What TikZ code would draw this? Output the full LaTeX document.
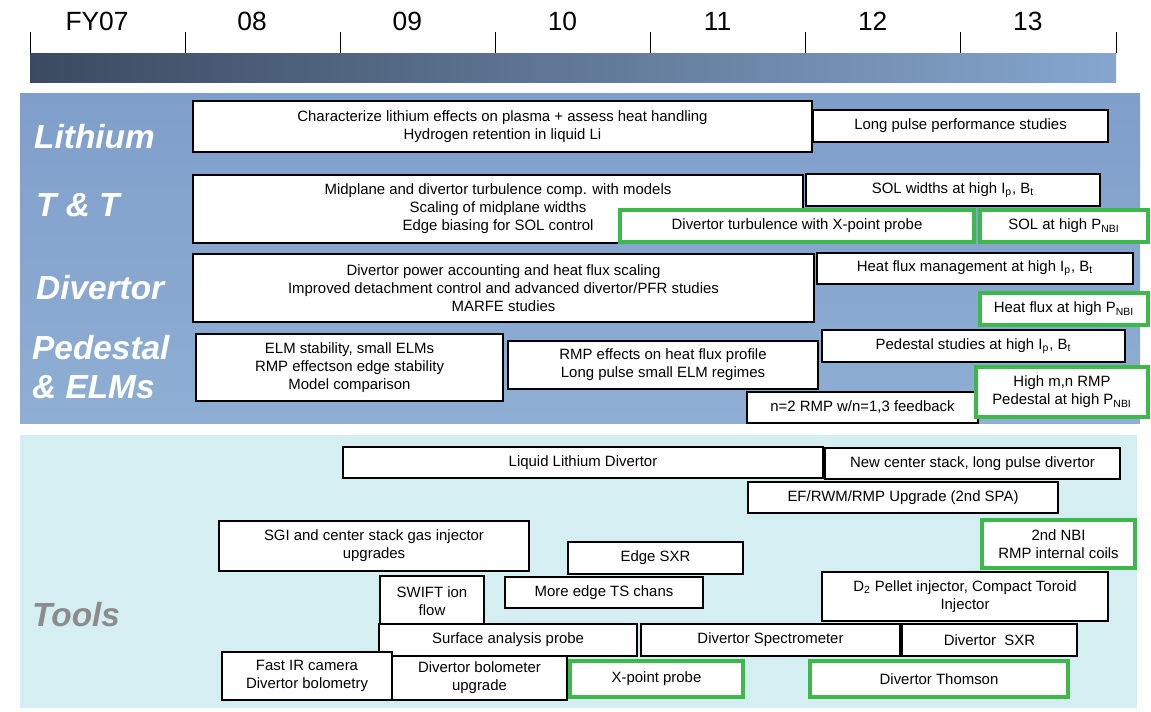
\documentclass[tikz,border=0pt]{standalone}
\usepackage{fontspec}
\setmainfont{Liberation Sans}

\definecolor{barleft}{HTML}{3B4A60}
\definecolor{barright}{HTML}{86A6CE}
\definecolor{physblue}{HTML}{7F9FCB}
\definecolor{physbluelow}{HTML}{8FAED3}
\definecolor{toolcyan}{HTML}{D5EEF2}
\definecolor{newgreen}{HTML}{3DB84A}
\definecolor{toolgray}{HTML}{8C8C8C}

\begin{document}
\begin{tikzpicture}[x=0.02cm,y=-0.02cm,
  year node/.style={font=\fontsize{15}{15}\selectfont},
  area node/.style={anchor=west,text=white,font=\fontsize{19}{19}\selectfont\bfseries\itshape},
  box span/.style n args={4}{at={({(#1+#3)/2},{(#2+#4)/2})},
    minimum width={(#3-#1)*0.02cm},minimum height={(#4-#2)*0.02cm}},
  task node/.style={rectangle,fill=white,draw=black,line width=0.6pt,inner sep=0pt,align=center,
    font=\fontsize{8.5}{10.2}\selectfont},
  new node/.style={task node,draw=newgreen,line width=2.8pt}]

  \useasboundingbox (0,0) rectangle (1151,711);

  % fiscal year scale
  \shade[left color=barleft,right color=barright] (30,53) rectangle (1116,82);
  \foreach \i in {0,...,7}
    \draw[line width=0.5pt] ({30+155.14*\i},32) -- ({30+155.14*\i},53);
  \foreach \yr [count=\i from 0] in {FY07,08,09,10,11,12,13}
    \node[year node] (y\i) at ({97+155.14*\i},21) {\yr};

  % background panels
  \shade[top color=physblue,bottom color=physbluelow] (20,93) rectangle (1140,423);
  \fill[toolcyan] (20,435) rectangle (1137,708);

  \node[area node] (lith) at (28,137) {Lithium};
  \node[area node] (tt) at (30,205) {T \& T};
  \node[area node] (div) at (30,288) {Divertor};
  \node[area node] (ped) at (26,348) {Pedestal};
  \node[area node] (elm) at (26,387) {\& ELMs};
  \node[area node,text=toolgray] (tools) at (26,615) {Tools};

  % Lithium
  \node[task node,box span={193}{101}{812}{152}] (li1)
    {Characterize lithium effects on plasma + assess heat handling\\Hydrogen retention in liquid Li};
  \node[task node,box span={813}{110}{1108}{142}] (li2) {Long pulse performance studies};

  % T & T
  \node[task node,box span={193}{175}{803}{243}] (tt1)
    {Midplane and divertor turbulence comp. with models\\Scaling of midplane widths\\Edge biasing for SOL control};
  \node[task node,box span={806}{174}{1100}{206}] (tt2) {SOL widths at high I\textsubscript{p}, B\textsubscript{t}};
  \node[new node,box span={620}{210}{974}{242}] (tt3) {Divertor turbulence with X-point probe};
  \node[new node,box span={980}{210}{1148}{242}] (tt4) {SOL at high P\textsubscript{NBI}};

  % Divertor
  \node[task node,box span={193}{254}{814}{322}] (dv1)
    {Divertor power accounting and heat flux scaling\\Improved detachment control and advanced divertor/PFR studies\\MARFE studies};
  \node[task node,box span={817}{253}{1133}{284}] (dv2) {Heat flux management at high I\textsubscript{p}, B\textsubscript{t}};
  \node[new node,box span={980}{293}{1148}{325}] (dv3) {Heat flux at high P\textsubscript{NBI}};

  % Pedestal & ELMs
  \node[task node,box span={196}{334}{503}{401}] (pd1)
    {ELM stability, small ELMs\\RMP effectson edge stability\\Model comparison};
  \node[task node,box span={508}{341}{818}{389}] (pd2)
    {RMP effects on heat flux profile\\Long pulse small ELM regimes};
  \node[task node,box span={822}{330}{1125}{362}] (pd3) {Pedestal studies at high I\textsubscript{p}, B\textsubscript{t}};
  \node[task node,box span={747}{392}{978}{423}] (pd4) {n=2 RMP w/n=1,3 feedback};
  \node[new node,box span={976}{367}{1148}{417}] (pd5) {High m,n RMP\\Pedestal at high P\textsubscript{NBI}};

  % Tools
  \node[task node,box span={343}{447}{823}{478}] (tl1) {Liquid Lithium Divertor};
  \node[task node,box span={825}{448}{1120}{479}] (tl2) {New center stack, long pulse divertor};
  \node[task node,box span={748}{482}{1058}{513}] (tl3) {EF/RWM/RMP Upgrade (2nd SPA)};
  \node[task node,box span={219}{521}{529}{571}] (tl4) {SGI and center stack gas injector\\upgrades};
  \node[new node,box span={982}{520}{1135}{568}] (tl5) {2nd NBI\\RMP internal coils};
  \node[task node,box span={568}{542}{743}{574}] (tl6) {Edge SXR};
  \node[task node,box span={380}{576}{484}{626}] (tl7) {SWIFT ion\\flow};
  \node[task node,box span={505}{577}{703}{608}] (tl8) {More edge TS chans};
  \node[task node,box span={822}{572}{1108}{621}] (tl9) {D\textsubscript{2} Pellet injector, Compact Toroid\\Injector};
  \node[task node,box span={379}{624}{637}{656}] (tl10) {Surface analysis probe};
  \node[task node,box span={641}{624}{900}{656}] (tl11) {Divertor Spectrometer};
  \node[task node,box span={902}{624}{1077}{656}] (tl12) {Divertor\ \ SXR};
  \node[task node,box span={222}{652}{392}{700}] (tl13) {Fast IR camera\\Divertor bolometry};
  \node[task node,box span={392}{656}{567}{700}] (tl14) {Divertor bolometer\\upgrade};
  \node[new node,box span={570}{661}{743}{697}] (tl15) {X-point probe};
  \node[new node,box span={810}{661}{1068}{697}] (tl16) {Divertor Thomson};

\end{tikzpicture}
\end{document}
